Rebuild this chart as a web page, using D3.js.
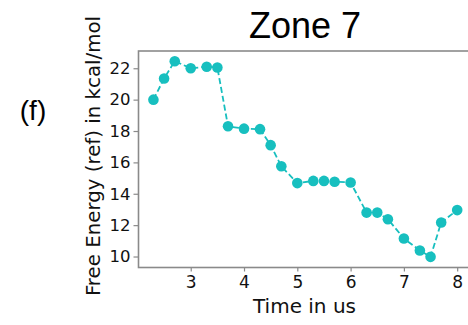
<!DOCTYPE html>
<html><head><meta charset="utf-8">
<script src="https://cdn.jsdelivr.net/npm/d3@7"></script>
<style>body{margin:0;background:#fff;overflow:hidden}svg{display:block}</style>
</head><body>
<svg id="c" width="468" height="325"></svg>
<script>
const times = [2.3,2.5,2.7,3.0,3.3,3.5,3.7,4.0,4.3,4.5,4.7,5.0,5.3,5.5,5.7,6.0,6.3,6.5,6.7,7.0,7.3,7.5,7.7,8.0];
const energy = [20.0,21.35,22.45,22.0,22.1,22.05,18.3,18.15,18.12,17.1,15.75,14.68,14.82,14.82,14.77,14.72,12.8,12.8,12.38,11.15,10.38,9.98,12.17,12.96];
const xTicks = [3,4,5,6,7,8];
const yTicks = [10,12,14,16,18,20,22];
const title = "Zone 7";
const panel = "(f)";

const svg = d3.select("#c");
const L=138.5, R=476, T=51, B=267.5;
const x = d3.scaleLinear().domain([2.02,8.353]).range([L,R]);
const y = d3.scaleLinear().domain([9.3,23.1]).range([B,T]);
const col = "#17bfbf", axCol = "#8a8a8a";

svg.append("rect").attr("x",L).attr("y",T).attr("width",R-L).attr("height",B-T)
  .attr("fill","none").attr("stroke",axCol).attr("stroke-width",1.6);

const xa = svg.append("g").attr("transform",`translate(0,${B})`)
  .call(d3.axisBottom(x).tickValues(xTicks).tickSize(4).tickPadding(4).tickFormat(d3.format("d")));
xa.select(".domain").remove();
xa.selectAll("line").attr("stroke",axCol).attr("stroke-width",1.2);
xa.selectAll("text").attr("font-family","DejaVu Sans").attr("font-size",17).attr("fill","#111");

const ya = svg.append("g").attr("transform",`translate(${L},0)`)
  .call(d3.axisLeft(y).tickValues(yTicks).tickSize(5).tickPadding(3).tickFormat(d3.format("d")));
ya.select(".domain").remove();
ya.selectAll("line").attr("stroke",axCol).attr("stroke-width",1.2);
ya.selectAll("text").attr("font-family","DejaVu Sans").attr("font-size",16.5).attr("fill","#111");

const pts = times.map((t,i)=>[t,energy[i]]);
svg.append("path").datum(pts)
  .attr("d", d3.line().x(d=>x(d[0])).y(d=>y(d[1])))
  .attr("fill","none").attr("stroke",col).attr("stroke-width",1.8).attr("stroke-dasharray","6,3");
svg.append("g").selectAll("circle").data(pts).join("circle")
  .attr("cx",d=>x(d[0])).attr("cy",d=>y(d[1])).attr("r",5.3).attr("fill",col);

svg.append("text").attr("x",305).attr("y",38).attr("text-anchor","middle")
  .attr("font-family","Liberation Sans, Arial").attr("font-size",36).attr("fill","#000").text(title);
svg.append("text").attr("x",33).attr("y",120).attr("text-anchor","middle")
  .attr("font-family","Liberation Sans, Arial").attr("font-size",28).attr("fill","#000").text(panel);
svg.append("text").attr("x",304.5).attr("y",312.5).attr("text-anchor","middle")
  .attr("font-family","DejaVu Sans").attr("font-size",20).attr("fill","#111").text("Time in us");
svg.append("text").attr("transform","translate(100,156) rotate(-90)").attr("text-anchor","middle")
  .attr("font-family","DejaVu Sans").attr("font-size",19.8).attr("fill","#111").text("Free Energy (ref) in kcal/mol");
</script>
</body></html>
